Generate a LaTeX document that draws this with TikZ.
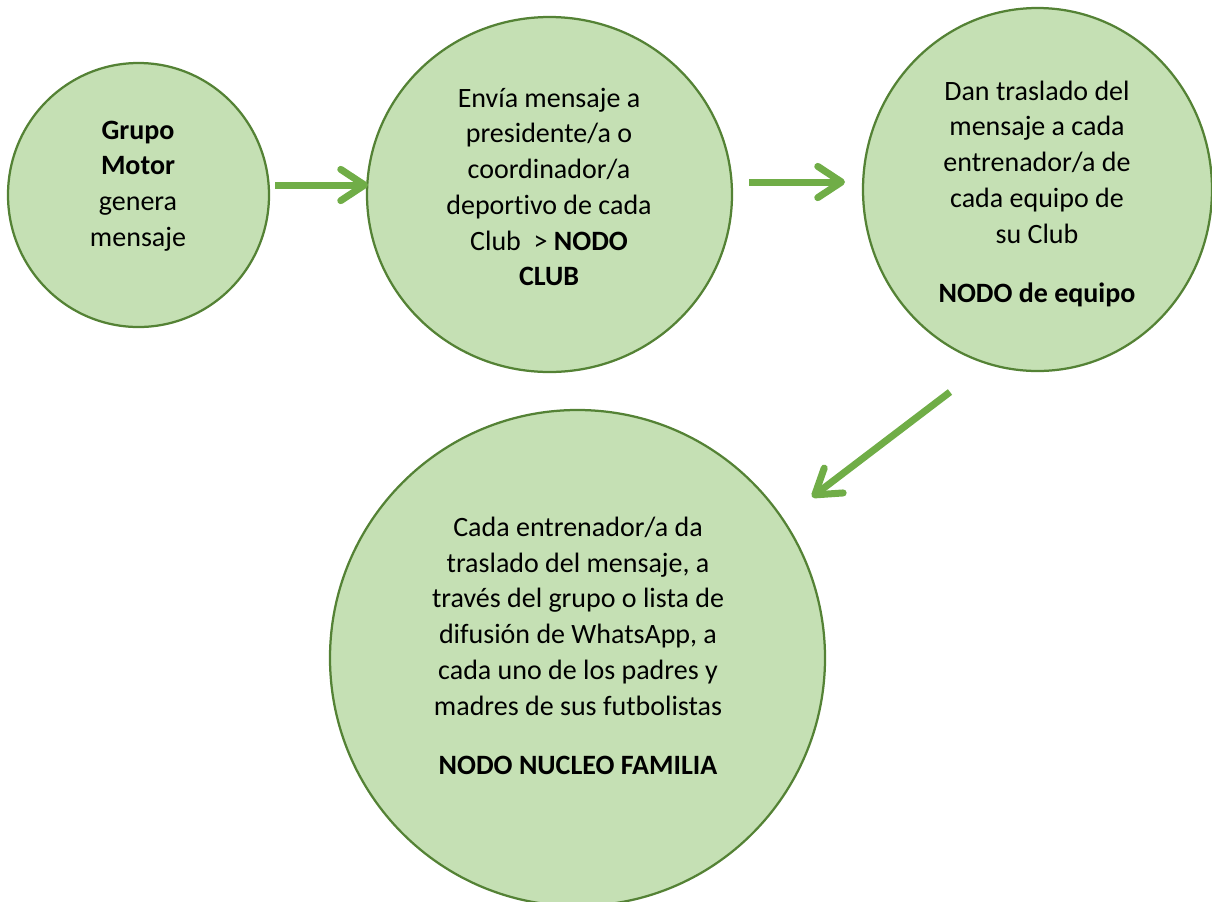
\documentclass[tikz,border=0pt]{standalone}
\usepackage{fontspec}
\setmainfont{Carlito}[Ligatures=NoCommon]
\usetikzlibrary{arrows.meta,shapes.geometric}
\definecolor{circfill}{HTML}{C5E0B4}
\definecolor{circline}{HTML}{548235}
\definecolor{arrowgreen}{HTML}{70AD47}

\begin{document}
\begin{tikzpicture}[x=0.4pt,y=-0.4pt,
  nodo/.style={ellipse,draw=circline,fill=circfill,line width=0.9pt,inner sep=0pt},
  texto/.style={align=center,inner sep=0pt,font=\fontsize{11.2pt}{14.3pt}\selectfont},
  flecha/.style={arrowgreen,line width=2.8pt,-{Straight Barb[length=9.5pt,width=12.5pt,round]}}]
  \useasboundingbox (0,0) rectangle (1212,901);

  % circles
  \node[nodo,minimum width=104.4pt,minimum height=105.6pt] (c1) at (138.5,195) {};
  \node[nodo,minimum width=146pt,minimum height=142pt] (c2) at (549.5,194.5) {};
  \node[nodo,minimum width=139.6pt,minimum height=145.2pt] (c3) at (1037.5,189.5) {};
  \node[nodo,minimum width=198pt,minimum height=198.4pt] (c4) at (577.5,658) {};

  % texts
  \node[texto] (t1) at (138,186) {\textbf{Grupo}\\\textbf{Motor}\\genera\\mensaje};
  \node[texto] (t2) at (549,187) {Envía mensaje a\\presidente/a o\\coordinador/a\\deportivo de cada\\Club\ \ > \textbf{NODO}\\\textbf{CLUB}};
  \node[texto] (t3) at (1037,194) {Dan traslado del\\mensaje a cada\\entrenador/a de\\cada equipo de\\su Club\\[9.6pt]\textbf{NODO de equipo}};
  \node[texto] (t4) at (578,646) {Cada entrenador/a da\\traslado del mensaje, a\\través del grupo o lista de\\difusión de WhatsApp, a\\cada uno de los padres y\\madres de sus futbolistas\\[9.6pt]\textbf{NODO NUCLEO FAMILIA}};

  % arrows
  \coordinate (a1s) at (275,185);
  \coordinate (a1e) at (368,185);
  \coordinate (a2s) at (749,182);
  \coordinate (a2e) at (845,182);
  \coordinate (a3s) at (950,392);
  \coordinate (a3e) at (812,497);
  \draw[flecha] (a1s) -- (a1e);
  \draw[flecha] (a2s) -- (a2e);
  \draw[flecha] (a3s) -- (a3e);
\end{tikzpicture}
\end{document}
